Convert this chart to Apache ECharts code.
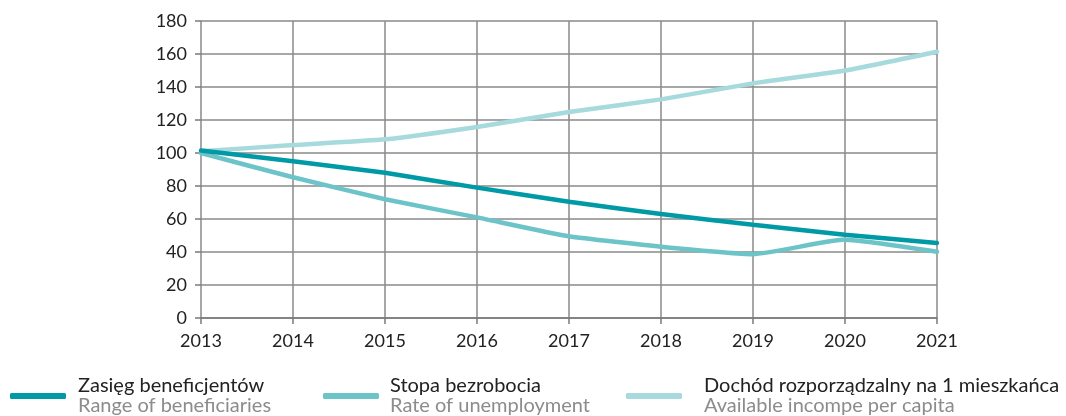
<!DOCTYPE html>
<html><head><meta charset="utf-8">
<script src="https://cdn.jsdelivr.net/npm/echarts@6/dist/echarts.min.js"></script>
<style>html,body{margin:0;padding:0;background:#fff}#c{width:1066px;height:416px}</style>
</head><body><div id="c"></div>
<script>
const years = ['2013','2014','2015','2016','2017','2018','2019','2020','2021'];
const yTicks = [0,20,40,60,80,100,120,140,160,180];
const beneficiaries = [101.5,95,88,79,70.5,63,56.5,50.5,45.5];
const unemployment = [100,85.3,72,61,49.5,43.2,38.7,47.5,40.2];
const income = [101,104.8,108.3,115.8,124.8,132.5,142.2,150,161.4];
const namesPl = ['Zasięg beneficjentów','Stopa bezrobocia','Dochód rozporządzalny na 1 mieszkańca'];
const namesEn = ['Range of beneficiaries','Rate of unemployment','Available incompe per capita'];
const colors = ['#0099a6','#6cc4c8','#a6dadc'];
const FONT = 'Lato';
const chart = echarts.init(document.getElementById('c'));
const values = [beneficiaries, unemployment, income];
const legendLeft = [5, 318, 621];
const legendTextGap = [7, 6, 17];
chart.setOption({
  animation:false,
  textStyle:{fontFamily:FONT},
  grid:{left:201,right:129,top:21,bottom:98},
  xAxis:{type:'category',data:years,boundaryGap:false,
    axisLine:{show:true,lineStyle:{color:'#7a7a7a',width:1.5}},
    axisTick:{show:true,length:6,alignWithLabel:true,lineStyle:{color:'#7a7a7a',width:1.5}},
    axisLabel:{color:'#222',fontSize:18,margin:14,fontFamily:FONT},
    splitLine:{show:true,lineStyle:{color:'#8a8a8a',width:1.5}}},
  yAxis:{type:'value',min:yTicks[0],max:yTicks[yTicks.length-1],interval:20,
    axisLine:{show:false},
    axisTick:{show:true,length:6,lineStyle:{color:'#7a7a7a',width:1.5}},
    axisLabel:{color:'#222',fontSize:18,margin:14,fontFamily:FONT},
    splitLine:{show:true,lineStyle:{color:'#8a8a8a',width:1.5}}},
  legend: namesPl.map((n,i)=>({
    data:[n],left:legendLeft[i],top:371,itemWidth:56,itemHeight:6,itemGap:0,
    icon:'roundRect',
    formatter:(name)=>'{a|'+name+'}\n{b|'+namesEn[i]+'}',
    textStyle:{padding:[0,0,0,legendTextGap[i]],rich:{
      a:{fontSize:20,color:'#222',fontFamily:FONT,lineHeight:20},
      b:{fontSize:20,color:'#8c8c8c',fontFamily:FONT,lineHeight:20}}}
  })),
  series: namesPl.map((n,i)=>({
    name:n,type:'line',data:values[i],symbol:'none',smooth:0.15,
    z:10-i,
    lineStyle:{color:colors[i],width:4.5,cap:'round'},
    itemStyle:{color:colors[i]}
  }))
});
</script></body></html>
